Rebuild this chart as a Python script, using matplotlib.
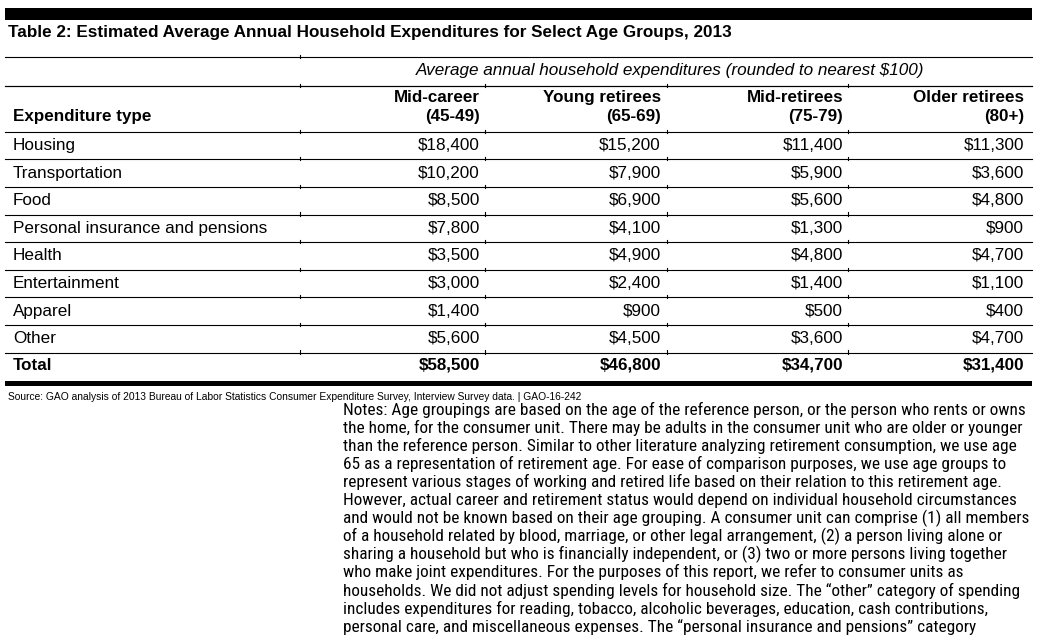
import matplotlib
matplotlib.use("Agg")
import matplotlib.pyplot as plt
from matplotlib import font_manager

# ---------------- data ----------------
title = "Table 2: Estimated Average Annual Household Expenditures for Select Age Groups, 2013"
spanner = "Average annual household expenditures (rounded to nearest $100)"
row_header = "Expenditure type"
col_labels = ["Mid-career\n(45-49)", "Young retirees\n(65-69)", "Mid-retirees\n(75-79)", "Older retirees\n(80+)"]
categories = ["Housing", "Transportation", "Food", "Personal insurance and pensions",
              "Health", "Entertainment", "Apparel", "Other"]
mid_career = [18400, 10200, 8500, 7800, 3500, 3000, 1400, 5600]
young_retirees = [15200, 7900, 6900, 4100, 4900, 2400, 900, 4500]
mid_retirees = [11400, 5900, 5600, 1300, 4800, 1400, 500, 3600]
older_retirees = [11300, 3600, 4800, 900, 4700, 1100, 400, 4700]
totals = [58500, 46800, 34700, 31400]
source = "Source: GAO analysis of 2013 Bureau of Labor Statistics Consumer Expenditure Survey, Interview Survey data. | GAO-16-242"
notes_lines = [
    "Notes: Age groupings are based on the age of the reference person, or the person who rents or owns",
    "the home, for the consumer unit. There may be adults in the consumer unit who are older or younger",
    "than the reference person. Similar to other literature analyzing retirement consumption, we use age",
    "65 as a representation of retirement age. For ease of comparison purposes, we use age groups to",
    "represent various stages of working and retired life based on their relation to this retirement age.",
    "However, actual career and retirement status would depend on individual household circumstances",
    "and would not be known based on their age grouping. A consumer unit can comprise (1) all members",
    "of a household related by blood, marriage, or other legal arrangement, (2) a person living alone or",
    "sharing a household but who is financially independent, or (3) two or more persons living together",
    "who make joint expenditures. For the purposes of this report, we refer to consumer units as",
    "households. We did not adjust spending levels for household size. The \u201cother\u201d category of spending",
    "includes expenditures for reading, tobacco, alcoholic beverages, education, cash contributions,",
    "personal care, and miscellaneous expenses. The \u201cpersonal insurance and pensions\u201d category",
]

# ---------------- layout ----------------
W, H = 1053, 640
fig = plt.figure(figsize=(W / 100, H / 100), dpi=100)
ax = fig.add_axes([0, 0, 1, 1])
ax.set_xlim(0, W)
ax.set_ylim(H, 0)
ax.axis("off")
renderer = fig.canvas.get_renderer()

avail = set(f.name for f in font_manager.fontManager.ttflist)
SANS = "Liberation Sans" if "Liberation Sans" in avail else "DejaVu Sans"
NARROW = SANS
for cand in ["Liberation Sans Narrow", "Roboto Condensed", "Archivo Narrow", "PT Sans Narrow"]:
    if cand in avail:
        NARROW = cand
        break


def fit_size(s, target_w, **kw):
    t = ax.text(0, 0, s, fontsize=10, **kw)
    w = t.get_window_extent(renderer).width
    t.remove()
    return 10 * target_w / w


def money(v):
    return "${:,}".format(v)


# sizes fitted to reference widths
fs_title = fit_size(title, 724, family=SANS, weight="bold")
fs_body = fit_size("Personal insurance and pensions", 254, family=SANS)
fs_bold = fit_size(row_header, 139, family=SANS, weight="bold")
fs_ital = fit_size(spanner, 510, family=SANS, style="italic")
fs_src = fit_size(source, 576, family=SANS)
fs_note = fit_size(notes_lines[0], 678, family=NARROW)

x0, x1 = 5, 1032
col_right = [480, 661, 843, 1024]
col_bounds = [300, 485, 667, 848]

# top black bar
ax.fill_between([x0, x1], 8, 20, color="black", lw=0)
ax.text(8, 32, title, family=SANS, weight="bold", fontsize=fs_title, va="center", ha="left")

thin = 0.8
ax.plot([x0, x1], [57, 57], color="black", lw=thin)
ax.plot([300, 300], [55, 58], color="black", lw=thin)
ax.text(670, 70, spanner, family=SANS, style="italic", fontsize=fs_ital, va="center", ha="center")
ax.plot([x0, x1], [86, 86], color="black", lw=thin)

# column header
for xr, lab in zip(col_right, col_labels):
    l1, l2 = lab.split("\n")
    ax.text(xr, 97.5, l1, family=SANS, weight="bold", fontsize=fs_bold, va="center", ha="right")
    ax.text(xr, 116, l2, family=SANS, weight="bold", fontsize=fs_bold, va="center", ha="right")
ax.text(13, 116, row_header, family=SANS, weight="bold", fontsize=fs_bold, va="center", ha="left")

# rows
y_top = 131.7
step = 27.6
series = [mid_career, young_retirees, mid_retirees, older_retirees]
line_ys = [86] + [y_top + i * step for i in range(len(categories) + 1)]
for ly in line_ys:
    ax.plot([x0, x1], [ly, ly], color="black", lw=thin)
    for xb in col_bounds:
        ax.plot([xb, xb], [ly - 2.2, ly + 1], color="black", lw=thin)

for i, cat in enumerate(categories):
    yc = y_top + (i + 0.5) * step
    ax.text(13, yc, cat, family=SANS, fontsize=fs_body, va="center", ha="left")
    for xr, ser in zip(col_right, series):
        ax.text(xr, yc, money(ser[i]), family=SANS, fontsize=fs_body, va="center", ha="right")

yt = y_top + len(categories) * step + 13
ax.text(13, yt, "Total", family=SANS, weight="bold", fontsize=fs_bold, va="center", ha="left")
for xr, v in zip(col_right, totals):
    ax.text(xr, yt, money(v), family=SANS, weight="bold", fontsize=fs_bold, va="center", ha="right")

# thick bottom rule
ax.fill_between([x0, x1], 380.5, 385.5, color="black", lw=0)

ax.text(8, 397, source, family=SANS, fontsize=fs_src, va="center", ha="left")

for k, line in enumerate(notes_lines):
    ax.text(343, 409.5 + k * 18.1, line, family=NARROW, fontsize=fs_note, va="center", ha="left")

fig.savefig("out.png", dpi=100)
